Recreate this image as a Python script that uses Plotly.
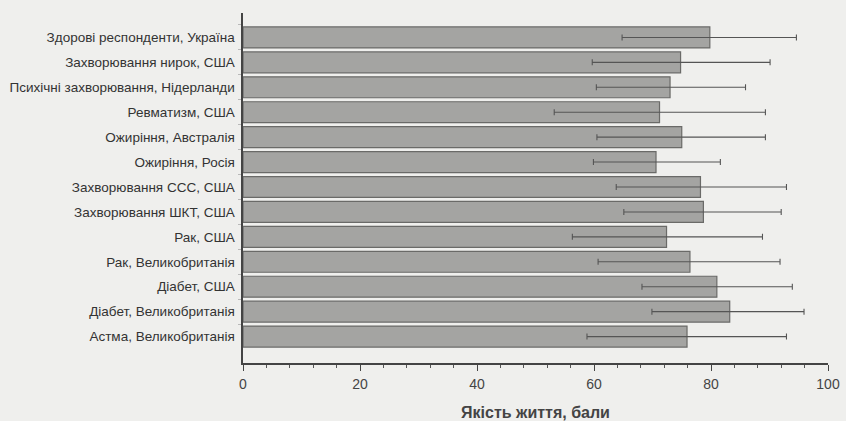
import plotly.graph_objects as go

categories = [
    "Здорові респонденти, Україна",
    "Захворювання нирок, США",
    "Психічні захворювання, Нідерланди",
    "Ревматизм, США",
    "Ожиріння, Австралія",
    "Ожиріння, Росія",
    "Захворювання ССС, США",
    "Захворювання ШКТ, США",
    "Рак, США",
    "Рак, Великобританія",
    "Діабет, США",
    "Діабет, Великобританія",
    "Астма, Великобританія",
]
mean_score = [79.8, 74.8, 73.0, 71.2, 75.0, 70.6, 78.2, 78.7, 72.4, 76.4, 81.0, 83.2, 75.9]
low_score = [64.8, 59.7, 60.4, 53.2, 60.5, 59.9, 63.8, 65.1, 56.3, 60.7, 68.2, 69.9, 58.8]
high_score = [94.6, 90.1, 85.9, 89.3, 89.3, 81.6, 92.9, 92.0, 88.8, 91.8, 93.9, 95.9, 92.9]

err_plus = [h - m for h, m in zip(high_score, mean_score)]
err_minus = [m - l for m, l in zip(mean_score, low_score)]

fig = go.Figure(
    go.Bar(
        x=mean_score,
        y=categories,
        orientation="h",
        marker=dict(color="#a4a4a2", line=dict(color="#6a6a68", width=1.2)),
        width=0.84,
        error_x=dict(
            type="data",
            symmetric=False,
            array=err_plus,
            arrayminus=err_minus,
            color="#555555",
            thickness=1.1,
            width=3,
        ),
    )
)

fig.update_layout(
    width=846,
    height=421,
    margin=dict(l=243, r=18, t=13, b=58, autoexpand=False),
    paper_bgcolor="#efefed",
    plot_bgcolor="#efefed",
    showlegend=False,
    font=dict(family="Liberation Sans, Arial, sans-serif", color="#333333", size=13),
)

fig.update_xaxes(
    range=[0, 100],
    tickvals=[0, 20, 40, 60, 80, 100],
    ticks="outside",
    ticklen=6,
    tickcolor="#444444",
    showline=True,
    linecolor="#444444",
    linewidth=1.5,
    showgrid=False,
    zeroline=False,
    automargin=False,
    ticklabelstandoff=1,
    tickfont=dict(size=14, color="#444444"),
    minor=dict(dtick=4, ticks="outside", ticklen=3, tickcolor="#555555"),
    title=dict(
        text="<b>Якість життя, бали</b>",
        font=dict(size=16, color="#444444"),
        standoff=21,
    ),
)

fig.update_yaxes(
    type="category",
    categoryorder="array",
    categoryarray=categories,
    range=[13.06, -0.98],
    showline=True,
    linecolor="#444444",
    linewidth=1.5,
    showgrid=False,
    automargin=False,
    ticks="outside",
    tickson="boundaries",
    ticklen=3,
    tickcolor="#b8b8b8",
    ticksuffix=" ",
    tickfont=dict(size=13.5, color="#333333"),
)

fig.write_html("out.html")
